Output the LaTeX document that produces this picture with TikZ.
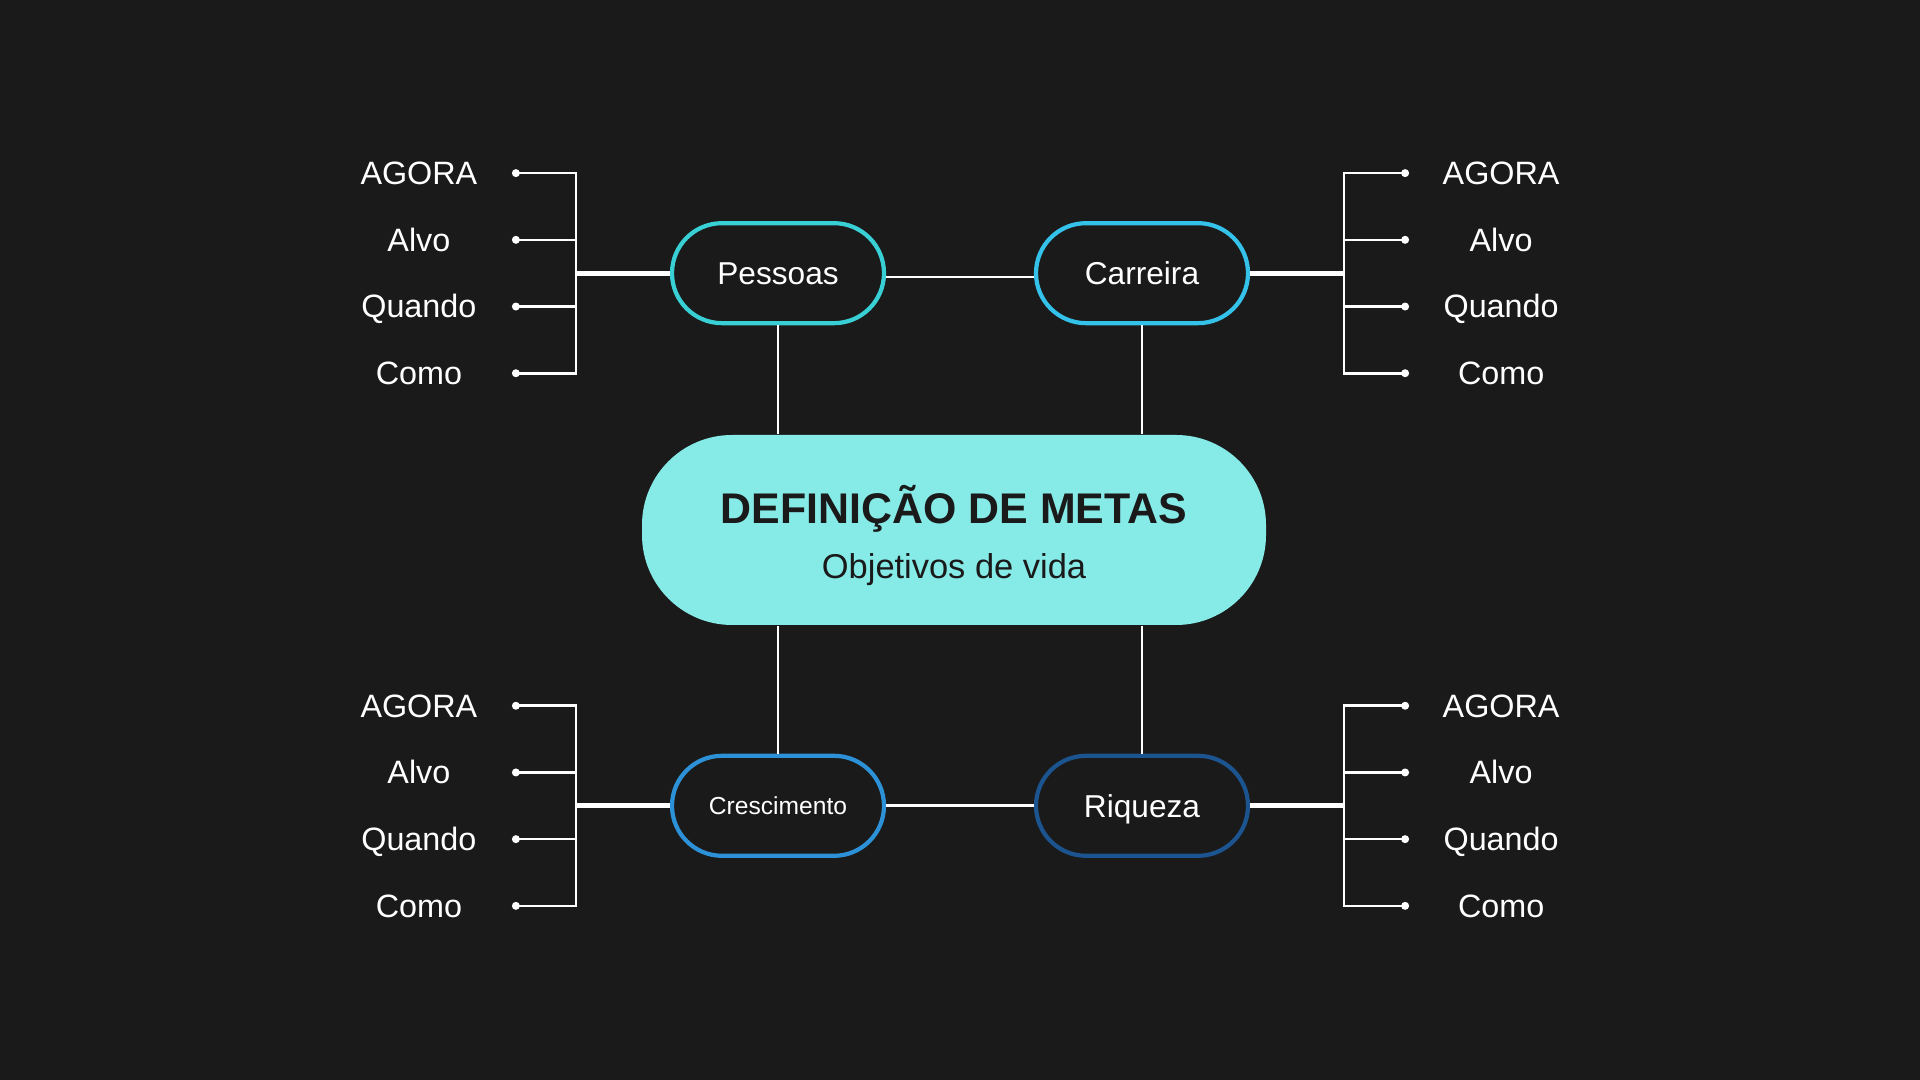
\documentclass[tikz,border=0pt]{standalone}
\usepackage{fontspec}
\setmainfont{Liberation Sans}
\usepackage{tikz}
\usetikzlibrary{positioning}
\usepackage{xcolor}
\definecolor{mtbg}{RGB}{26,26,26}
\definecolor{mtcenter}{RGB}{134,234,231}
\definecolor{mtpessoas}{RGB}{56,208,212}
\definecolor{mtcarreira}{RGB}{52,194,235}
\definecolor{mtcrescimento}{RGB}{44,145,214}
\definecolor{mtriqueza}{RGB}{27,84,143}
\tikzstyle{metanode} = [rectangle, rounded corners=0.9cm, minimum width=6.24cm, minimum height=1.9cm, inner sep=0pt, fill=mtcenter, text=mtbg, align=center]
\tikzstyle{area} = [rectangle, rounded corners=0.5cm, minimum width=2.12cm, minimum height=1cm, inner sep=0pt, draw, line width=1.2pt, fill=mtbg, text=white, font=\fontsize{9pt}{11pt}\selectfont, text height=8.4pt, text depth=1.9pt]
\tikzstyle{itemlabel} = [text=white, inner sep=0pt, font=\fontsize{9.2pt}{11pt}\selectfont, text height=8.4pt, text depth=1.9pt]
\tikzstyle{dot} = [circle, fill=white, inner sep=0pt, minimum size=0.08cm]
\tikzstyle{link} = [line width=0.75pt, white]
\tikzstyle{trunk} = [line width=1.5pt, white]

\begin{document}
\begin{tikzpicture}
% Background
\fill[mtbg] (0,0) rectangle (19.2,10.8);

% Central node
\node[metanode, font=\fontsize{9.8pt}{15.6pt}\selectfont] (meta) at (9.54,5.50) {\rule{0pt}{14pt}{\fontsize{12.2pt}{15.6pt}\selectfont\bfseries DEFINIÇÃO DE METAS}\\Objetivos de vida};

% Area nodes
\node[area, draw=mtpessoas, above=1.09cm of meta, xshift=-1.76cm] (pessoas) {Pessoas};
\node[area, draw=mtcarreira, above=1.09cm of meta, xshift=1.88cm] (carreira) {Carreira};
\node[area, draw=mtcrescimento, below=1.28cm of meta, xshift=-1.76cm, font=\fontsize{7pt}{9pt}\selectfont, text height=6.5pt, text depth=1.5pt] (crescimento) {Crescimento};
\node[area, draw=mtriqueza, below=1.28cm of meta, xshift=1.88cm] (riqueza) {Riqueza};

% Connections between areas and to center
\draw[link] ([yshift=-0.04cm]pessoas.east) -- ([yshift=-0.04cm]carreira.west);
\draw[link] (crescimento) -- (riqueza);
\draw[link] (pessoas.south) -- (pessoas.south |- meta.north);
\draw[link] (carreira.south) -- (carreira.south |- meta.north);
\draw[link] (crescimento.north) -- (crescimento.north |- meta.south);
\draw[link] (riqueza.north) -- (riqueza.north |- meta.south);

% Pessoas items
\foreach \t [count=\i] in {AGORA,Alvo,Quando,Como}{
  \node[itemlabel] (pl\i) at ([xshift=-2.51cm, yshift={(2.5-\i)*0.667cm}]pessoas.west) {\t};
  \node[dot] (pd\i) at ([xshift=-1.54cm, yshift={(2.5-\i)*0.667cm}]pessoas.west) {};
  \coordinate (pb\i) at ([xshift=-0.94cm, yshift={(2.5-\i)*0.667cm}]pessoas.west);
}
\draw[link] (pd1.center) -- (pb1) -- (pb4) -- (pd4.center);
\draw[link] (pd2.center) -- (pb2);
\draw[link] (pd3.center) -- (pb3);
\draw[trunk] (pessoas.west) -- (pessoas.west -| pb1);

% Carreira items
\foreach \t [count=\i] in {AGORA,Alvo,Quando,Como}{
  \node[itemlabel] (cl\i) at ([xshift=2.51cm, yshift={(2.5-\i)*0.667cm}]carreira.east) {\t};
  \node[dot] (cd\i) at ([xshift=1.55cm, yshift={(2.5-\i)*0.667cm}]carreira.east) {};
  \coordinate (cb\i) at ([xshift=0.94cm, yshift={(2.5-\i)*0.667cm}]carreira.east);
}
\draw[link] (cd1.center) -- (cb1) -- (cb4) -- (cd4.center);
\draw[link] (cd2.center) -- (cb2);
\draw[link] (cd3.center) -- (cb3);
\draw[trunk] (carreira.east) -- (carreira.east -| cb1);

% Crescimento items
\foreach \t [count=\i] in {AGORA,Alvo,Quando,Como}{
  \node[itemlabel] (gl\i) at ([xshift=-2.51cm, yshift={(2.5-\i)*0.667cm}]crescimento.west) {\t};
  \node[dot] (gd\i) at ([xshift=-1.54cm, yshift={(2.5-\i)*0.667cm}]crescimento.west) {};
  \coordinate (gb\i) at ([xshift=-0.94cm, yshift={(2.5-\i)*0.667cm}]crescimento.west);
}
\draw[link] (gd1.center) -- (gb1) -- (gb4) -- (gd4.center);
\draw[link] (gd2.center) -- (gb2);
\draw[link] (gd3.center) -- (gb3);
\draw[trunk] (crescimento.west) -- (crescimento.west -| gb1);

% Riqueza items
\foreach \t [count=\i] in {AGORA,Alvo,Quando,Como}{
  \node[itemlabel] (rl\i) at ([xshift=2.51cm, yshift={(2.5-\i)*0.667cm}]riqueza.east) {\t};
  \node[dot] (rd\i) at ([xshift=1.55cm, yshift={(2.5-\i)*0.667cm}]riqueza.east) {};
  \coordinate (rb\i) at ([xshift=0.94cm, yshift={(2.5-\i)*0.667cm}]riqueza.east);
}
\draw[link] (rd1.center) -- (rb1) -- (rb4) -- (rd4.center);
\draw[link] (rd2.center) -- (rb2);
\draw[link] (rd3.center) -- (rb3);
\draw[trunk] (riqueza.east) -- (riqueza.east -| rb1);
\end{tikzpicture}
\end{document}
